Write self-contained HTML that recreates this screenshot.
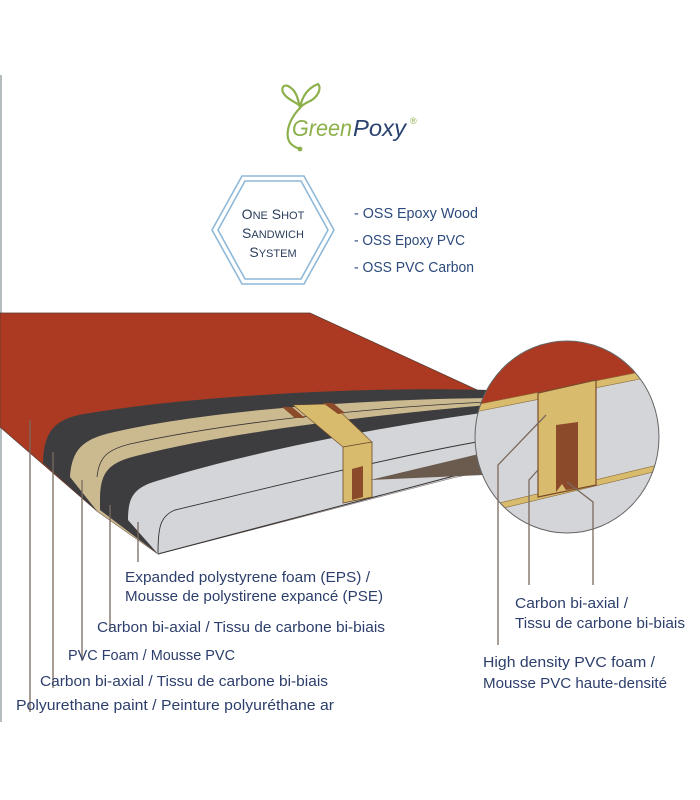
<!DOCTYPE html>
<html><head><meta charset="utf-8"><style>
html,body{margin:0;padding:0;background:#fff;}
svg{display:block;}
text{font-family:"Liberation Sans",sans-serif;}
</style></head><body>
<svg width="700" height="800" viewBox="0 0 700 800" xmlns="http://www.w3.org/2000/svg">
<line x1="1" y1="75" x2="1" y2="722" stroke="#9aa7a7" stroke-width="1.5"/>
<!-- logo -->
<g fill="none" stroke="#8cb04a" stroke-width="2.2" stroke-linecap="round">
<path d="M300,108 C298,98 296,90 288,86 C282,84 281,90 284,94 C288,100 296,102 300,106"/>
<path d="M300,108 C302,96 308,88 318,84 C322,88 318,98 308,102 C304,104 301,106 300,108"/>
<path d="M300,108 C292,116 286,128 288,138 C289,144 294,147 300,149"/>
</g>
<circle cx="300" cy="149" r="2.4" fill="#8cb04a"/>
<text x="292" y="136" font-size="23" font-style="italic" fill="#8cb04a" textLength="60" lengthAdjust="spacingAndGlyphs">Green</text>
<text x="353" y="136" font-size="23" font-style="italic" fill="#2c4270" textLength="53" lengthAdjust="spacingAndGlyphs">Poxy</text>
<text x="410" y="124" font-size="9" fill="#8cb04a">®</text>
<!-- hexagon -->
<polygon points="212,230 242,176 304,176 334,230 304,284 242,284" fill="none" stroke="#8fb8d8" stroke-width="1.6"/>
<polygon points="218,230 245,181 301,181 328,230 301,279 245,279" fill="none" stroke="#8fb8d8" stroke-width="1.6"/>
<g fill="#2c3e5c" font-size="14" text-anchor="middle">
<text x="273" y="219">O<tspan font-size="11">NE</tspan> S<tspan font-size="11">HOT</tspan></text>
<text x="273" y="238">S<tspan font-size="11">ANDWICH</tspan></text>
<text x="273" y="257">S<tspan font-size="11">YSTEM</tspan></text>
</g>
<g fill="#2c4a7c" font-size="15">
<text x="354" y="218" textLength="124" lengthAdjust="spacingAndGlyphs">- OSS Epoxy Wood</text>
<text x="354" y="245" textLength="111" lengthAdjust="spacingAndGlyphs">- OSS Epoxy PVC</text>
<text x="354" y="272" textLength="120" lengthAdjust="spacingAndGlyphs">- OSS PVC Carbon</text>
</g>
<!-- board -->
<path d="M0,313 L310,313 L488,395 L488,470 L452,478 L158,554 L97,511 L0,427 Z" fill="#ac3a22" stroke="#5a3a30" stroke-width="0.8"/>
<path d="M43,463 C44,430 55,418 90,413 C180,398 350,386 488,390 L488,470 L452,478 L158,554 L97,511 L43,463 Z" fill="#3d3d40"/>
<path d="M70,477 C72,450 82,440 110,433 C190,414 330,400 488,398 L488,470 L452,478 L158,554 L97,511 Z" fill="#cbb98f"/>
<path d="M97,477 C99,458 106,450 130,444 C220,424 360,408 488,402" fill="none" stroke="#333" stroke-width="0.8"/>
<path d="M100,500 C100,470 110,462 140,455 C220,435 340,418 488,405 L488,470 L452,478 L158,554 L100,510 Z" fill="#3d3d40"/>
<path d="M128,520 C128,495 135,487 160,480 C240,455 360,430 488,412 L488,470 L452,478 L158,554 Z" fill="#d4d5d8"/>
<path d="M158,553 C158,528 160,516 175,510 C280,485 400,455 488,440" fill="none" stroke="#333" stroke-width="0.9"/>
<path d="M158,554 L488,467" stroke="#333" stroke-width="1"/>
<!-- spar -->
<polygon points="293,405 332,404 372,442 343,447" fill="#d9bb6e" stroke="#6a4a2a" stroke-width="0.6"/>
<polygon points="282,407 292,407 305,418 295,418" fill="#8b4a2a"/>
<polygon points="323,403 333,403 345,413 338,414" fill="#8b4a2a"/>
<polygon points="343,447 372,442 372,497 343,503" fill="#d9bb6e" stroke="#6a4a2a" stroke-width="0.8"/>
<polygon points="352,469 363,466 363,497 352,500" fill="#8b4a2a"/>
<polygon points="370,480 483,453 483,475" fill="#6b5a4e"/>
<!-- circle -->
<defs><clipPath id="cc"><ellipse cx="567" cy="437" rx="92" ry="96"/></clipPath></defs>
<g clip-path="url(#cc)">
<rect x="470" y="335" width="200" height="205" fill="#d4d5d8"/>
<polygon points="470,340 670,340 670,368 470,408" fill="#ac3a22"/>
<polygon points="470,406 670,366 670,373 470,413" fill="#d9bb6e" stroke="#8b6a3a" stroke-width="0.6"/>
<polygon points="470,510 670,462 670,468 470,516" fill="#d9bb6e" stroke="#8b6a3a" stroke-width="0.6"/>
<polygon points="538,393 596,380 596,485 538,497" fill="#d9bb6e" stroke="#7a4a2a" stroke-width="1.2"/>
<polygon points="556,425 578,422 578,488 566,490 562,484 556,492" fill="#8b4a2a"/>
</g>
<ellipse cx="567" cy="437" rx="92" ry="96" fill="none" stroke="#666" stroke-width="1"/>
<!-- leaders -->
<g stroke="#7a6a5e" stroke-width="1.3" fill="none">
<line x1="30" y1="420" x2="30" y2="712"/>
<line x1="53" y1="452" x2="53" y2="688"/>
<line x1="82" y1="480" x2="82" y2="661"/>
<line x1="110" y1="505" x2="110" y2="630"/>
<line x1="138" y1="522" x2="138" y2="562"/>
<polyline points="546,415 498,465 498,645"/>
<polyline points="538,470 529,480 529,585"/>
<polyline points="567,482 593,502 593,585"/>
</g>
<g fill="#2c3e6b" font-size="15">
<text x="125" y="582" textLength="245" lengthAdjust="spacingAndGlyphs">Expanded polystyrene foam (EPS) /</text>
<text x="125" y="601" textLength="258" lengthAdjust="spacingAndGlyphs">Mousse de polystirene expancé (PSE)</text>
<text x="97" y="632" textLength="288" lengthAdjust="spacingAndGlyphs">Carbon bi-axial / Tissu de carbone bi-biais</text>
<text x="68" y="660" textLength="167" lengthAdjust="spacingAndGlyphs">PVC Foam / Mousse PVC</text>
<text x="40" y="686" textLength="288" lengthAdjust="spacingAndGlyphs">Carbon bi-axial / Tissu de carbone bi-biais</text>
<text x="16" y="710" textLength="318" lengthAdjust="spacingAndGlyphs">Polyurethane paint / Peinture polyuréthane ar</text>
<text x="515" y="608" textLength="113" lengthAdjust="spacingAndGlyphs">Carbon bi-axial /</text>
<text x="515" y="628" textLength="170" lengthAdjust="spacingAndGlyphs">Tissu de carbone bi-biais</text>
<text x="483" y="667" textLength="172" lengthAdjust="spacingAndGlyphs">High density PVC foam /</text>
<text x="483" y="688" textLength="184" lengthAdjust="spacingAndGlyphs">Mousse PVC haute-densité</text>
</g>
</svg>
</body></html>
